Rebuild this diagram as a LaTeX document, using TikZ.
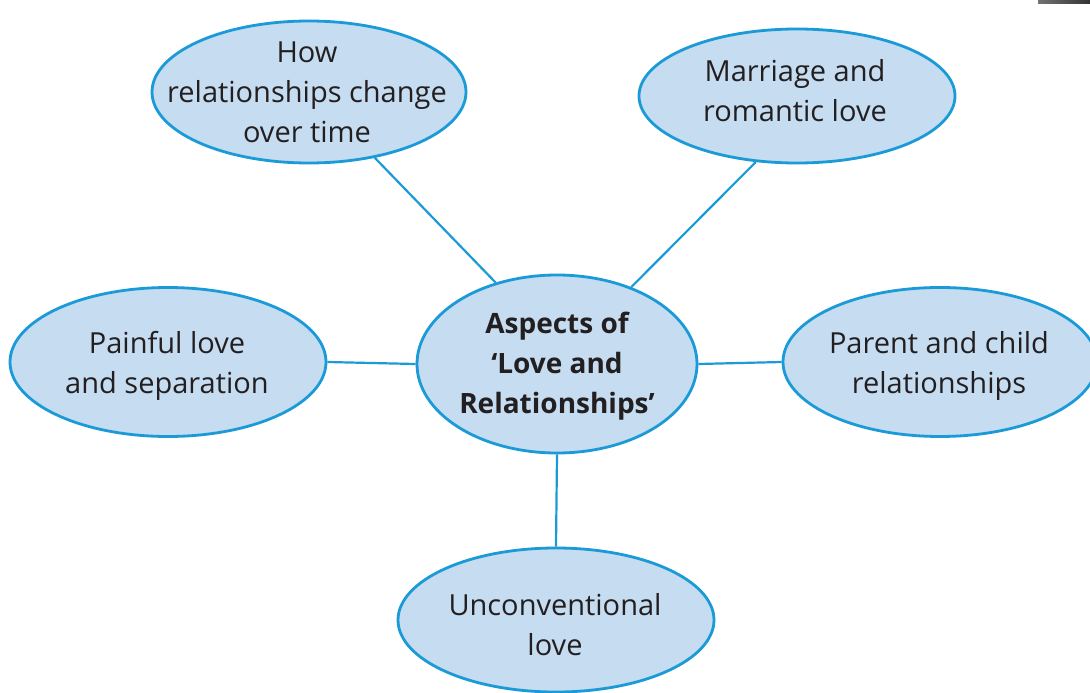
\documentclass[tikz,border=0pt]{standalone}
\usepackage{fontspec}
\setmainfont{Open Sans}
\usetikzlibrary{shapes.geometric}
\definecolor{bubblefill}{HTML}{C5DCF1}
\definecolor{bubbleline}{HTML}{1B9AD8}
\definecolor{inkdark}{HTML}{231F20}
\tikzset{
  bubble/.style={ellipse, draw=bubbleline, line width=2.8pt, fill=bubblefill,
    inner sep=0pt},
  caption/.style={align=center, text=inkdark, inner sep=0pt,
    font=\fontsize{29}{40}\selectfont},
  boldcaption/.style={caption, font=\fontsize{28}{40}\selectfont\bfseries},
  link/.style={draw=bubbleline, line width=2.2pt}
}
\begin{document}
\begin{tikzpicture}[x=1pt,y=-1pt]
\useasboundingbox (0,0) rectangle (1090,693);
\begin{scope}
\clip (0,0) rectangle (1090,693);
% dark strip in the top right corner
\shade[left color=black!55, right color=black!80] (1038,0) rectangle (1090,4);

% the six bubbles
\node[bubble, minimum width=314pt, minimum height=142pt] (change) at (309,92) {};
\node[bubble, minimum width=316pt, minimum height=134pt] (marriage) at (797,96) {};
\node[bubble, minimum width=280pt, minimum height=178pt] (centre) at (557,364) {};
\node[bubble, minimum width=316pt, minimum height=149pt] (painful) at (168,362) {};
\node[bubble, minimum width=314pt, minimum height=149pt] (parent) at (940,362) {};
\node[bubble, minimum width=316pt, minimum height=144pt] (unconv) at (556,620) {};

% their texts
\node[caption] (changetext) at (307,92) {How\\relationships change\\over time};
\node[caption] (marriagetext) at (795,91) {Marriage and\\romantic love};
\node[boldcaption] (centretext) at (557,366) {Aspects of\\‘Love and\\Relationships’};
\node[caption] (painfultext) at (167,366) {Painful love\\and separation};
\node[caption] (parenttext) at (939,366) {Parent and child\\relationships};
\node[caption] (unconvtext) at (555,625) {Unconventional\\love};

% spokes from the centre
\draw[link] (change.-45) -- (centre.127);
\draw[link] (marriage.-122) -- (centre.46);
\draw[link] (painful.east) -- (centre.west);
\draw[link] (centre.east) -- (parent.west);
\draw[link] (centre.south) -- (unconv.north);
\end{scope}
\end{tikzpicture}
\end{document}
